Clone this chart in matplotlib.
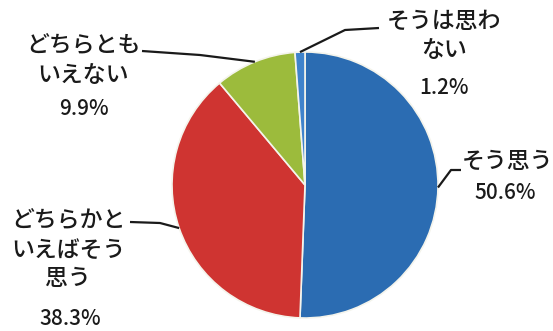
import numpy as np
import matplotlib.pyplot as plt

plt.rcParams['font.family'] = ['Noto Sans CJK JP', 'DejaVu Sans']

labels = ["そう思う", "どちらかと\nいえばそう\n思う", "どちらとも\nいえない", "そうは思わ\nない"]
values = [50.6, 38.3, 9.9, 1.2]
colors = ['#2b6cb2', '#cf3431', '#9cbb3c', '#3f83cc']

# label placement (pixel coords, y measured from the top)
name_pos = [(508, 161), (68, 250), (83, 61), (444, 36)]
pct_pos = [(505, 193), (70, 319), (84, 109), (444, 88)]
# leader line: elbow point and end point near the text
elbows = [(451, 170), (160, 223), (200, 55), (345, 30)]
ends = [(461, 170), (130, 222), (142, 51), (379, 28)]

W, H = 553, 331
fig = plt.figure(figsize=(W / 100, H / 100), dpi=100)
ax = fig.add_axes([0, 0, 1, 1])

cx, cy, r = 305, H - 185, 133
wedges, _ = ax.pie(values, colors=colors, startangle=90, counterclock=False,
                   radius=r, center=(cx, cy),
                   wedgeprops=dict(edgecolor='#f4f4ec', linewidth=1.2))

ax.set_xlim(0, W)
ax.set_ylim(0, H)
ax.set_aspect('equal')
ax.axis('off')

for w, lab, v, npos, ppos, elb, end in zip(wedges, labels, values, name_pos, pct_pos, elbows, ends):
    theta = np.deg2rad((w.theta1 + w.theta2) / 2)
    x0 = cx + r * np.cos(theta)
    y0 = cy + r * np.sin(theta)
    ax.plot([x0, elb[0], end[0]], [y0, H - elb[1], H - end[1]],
            color='#1a1a1a', lw=1.6, solid_capstyle='butt')
    ax.text(npos[0], H - npos[1], lab, ha='center', va='center',
            fontsize=16.5, fontweight='medium', linespacing=1.3, color='#1a1a1a')
    ax.text(ppos[0], H - ppos[1], f"{v}%", ha='center', va='center',
            fontsize=15, fontweight='medium', color='#1a1a1a')

fig.savefig('out.png', dpi=100)
